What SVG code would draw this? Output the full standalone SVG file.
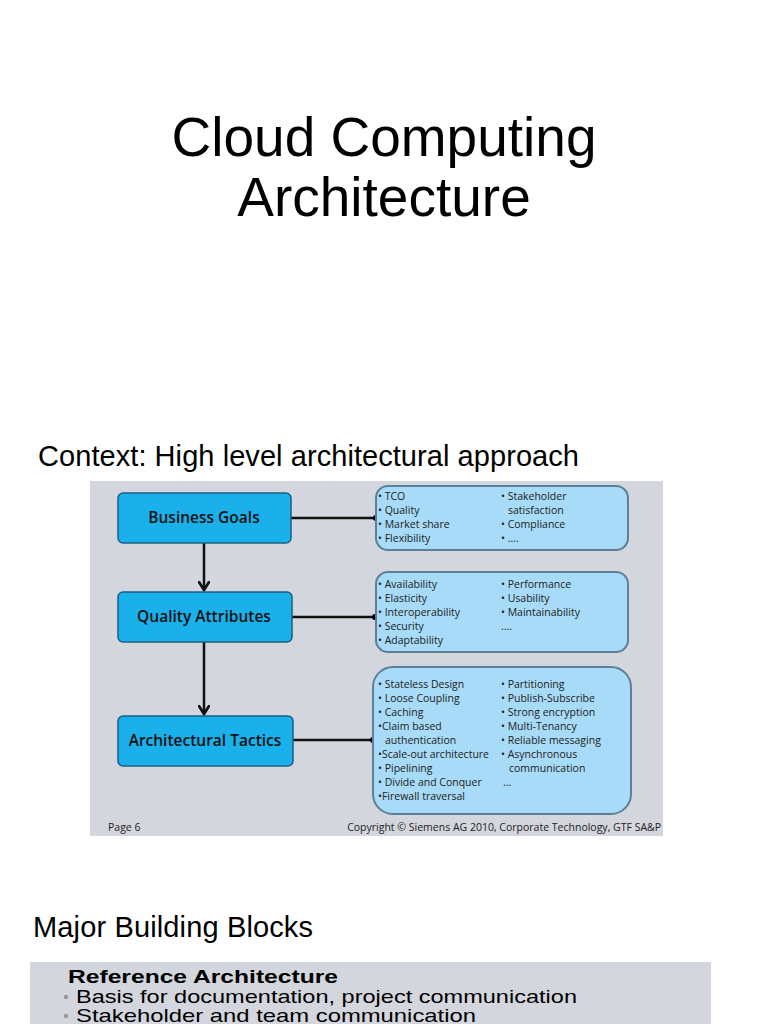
<svg xmlns="http://www.w3.org/2000/svg" width="768" height="1024" viewBox="0 0 768 1024">
<style>
.t{font-family:"Liberation Sans",Arial,sans-serif;fill:#000}
.n{fill:#1ab0ea;stroke:#1b5f85;stroke-width:1.5}
.nl{font-family:"Open Sans","DejaVu Sans",sans-serif;font-size:15.5px;fill:#111;text-anchor:middle;font-weight:600}
.b{fill:#a7dbf7;stroke:#5d7f99;stroke-width:2}
.bl{font-family:"Open Sans","DejaVu Sans",sans-serif;font-size:10.5px;fill:#222}
.c{stroke:#111;stroke-width:2.5;fill:none}
</style>
<defs><marker id="ah" viewBox="0 0 10 10" refX="8" refY="5" markerWidth="4.5" markerHeight="4.5" orient="auto"><path d="M0,0 L8,5 L0,10" fill="none" stroke="#111" stroke-width="2.4"/></marker></defs>
<rect width="768" height="1024" fill="#fff"/>
<text class="t" x="384" y="156" font-size="55" text-anchor="middle">Cloud Computing</text>
<text class="t" x="384" y="216" font-size="55" text-anchor="middle">Architecture</text>
<text class="t" x="38" y="466" font-size="29" textLength="541">Context: High level architectural approach</text>
<rect x="90" y="481" width="573" height="355" fill="#d4d6dd"/>
<g id="connectors">
<line class="c" x1="204" y1="543" x2="204" y2="590" marker-end="url(#ah)"/>
<line class="c" x1="204" y1="642" x2="204" y2="714" marker-end="url(#ah)"/>
<line class="c" x1="291" y1="518" x2="376" y2="518"/><circle cx="376" cy="518" r="3"/>
<line class="c" x1="292" y1="617" x2="375" y2="617"/><circle cx="375" cy="617" r="3"/>
<line class="c" x1="293" y1="740" x2="373" y2="740"/><circle cx="373" cy="740" r="3"/>
</g>
<g id="bg"><rect class="n" x="118" y="493" width="173" height="50" rx="5"/><text class="nl" x="204" y="523">Business Goals</text></g>
<g id="qa"><rect class="n" x="118" y="592" width="174" height="50" rx="5"/><text class="nl" x="204" y="622">Quality Attributes</text></g>
<g id="at"><rect class="n" x="118" y="716" width="175" height="50" rx="5"/><text class="nl" x="205" y="746">Architectural Tactics</text></g>
<g id="box1"><rect class="b" x="376" y="486" width="252" height="64" rx="12"/>
<text class="bl"><tspan x="378" y="500">• TCO</tspan><tspan x="378" y="514">• Quality</tspan><tspan x="378" y="528">• Market share</tspan><tspan x="378" y="542">• Flexibility</tspan></text>
<text class="bl"><tspan x="501" y="500">• Stakeholder</tspan><tspan x="508" y="514">satisfaction</tspan><tspan x="501" y="528">• Compliance</tspan><tspan x="501" y="542">• ....</tspan></text></g>
<g id="box2"><rect class="b" x="376" y="572" width="252" height="80" rx="12"/>
<text class="bl"><tspan x="378" y="588">• Availability</tspan><tspan x="378" y="602">• Elasticity</tspan><tspan x="378" y="616">• Interoperability</tspan><tspan x="378" y="630">• Security</tspan><tspan x="378" y="644">• Adaptability</tspan></text>
<text class="bl"><tspan x="501" y="588">• Performance</tspan><tspan x="501" y="602">• Usability</tspan><tspan x="501" y="616">• Maintainability</tspan><tspan x="501" y="630">....</tspan></text></g>
<g id="box3"><rect class="b" x="373" y="667" width="258" height="147" rx="20"/>
<text class="bl"><tspan x="378" y="688">• Stateless Design</tspan><tspan x="378" y="702">• Loose Coupling</tspan><tspan x="378" y="716">• Caching</tspan><tspan x="378" y="730">•Claim based</tspan><tspan x="385" y="744">authentication</tspan><tspan x="378" y="758">•Scale-out architecture</tspan><tspan x="378" y="772">• Pipelining</tspan><tspan x="378" y="786">• Divide and Conquer</tspan><tspan x="378" y="800">•Firewall traversal</tspan></text>
<text class="bl"><tspan x="501" y="688">• Partitioning</tspan><tspan x="501" y="702">• Publish-Subscribe</tspan><tspan x="501" y="716">• Strong encryption</tspan><tspan x="501" y="730">• Multi-Tenancy</tspan><tspan x="501" y="744">• Reliable messaging</tspan><tspan x="501" y="758">• Asynchronous</tspan><tspan x="509" y="772">communication</tspan><tspan x="503" y="786">...</tspan></text></g>
<text class="bl" x="108" y="831" font-size="8">Page 6</text>
<text class="bl" x="661" y="831" font-size="9" text-anchor="end" fill="#333">Copyright © Siemens AG 2010, Corporate Technology, GTF SA&amp;P</text>
<text class="t" x="33" y="937" font-size="29" textLength="280">Major Building Blocks</text>
<rect x="30" y="962" width="681" height="62" fill="#d4d6dd"/>
<text class="t" x="68" y="983" font-size="19" font-weight="bold" textLength="270" lengthAdjust="spacingAndGlyphs">Reference Architecture</text>
<circle cx="66" cy="997" r="2.2" fill="#999"/>
<text class="t" x="76" y="1003" font-size="19" textLength="501" lengthAdjust="spacingAndGlyphs">Basis for documentation, project communication</text>
<circle cx="66" cy="1016" r="2.2" fill="#999"/>
<text class="t" x="76" y="1022" font-size="19" textLength="400" lengthAdjust="spacingAndGlyphs">Stakeholder and team communication</text>
</svg>
